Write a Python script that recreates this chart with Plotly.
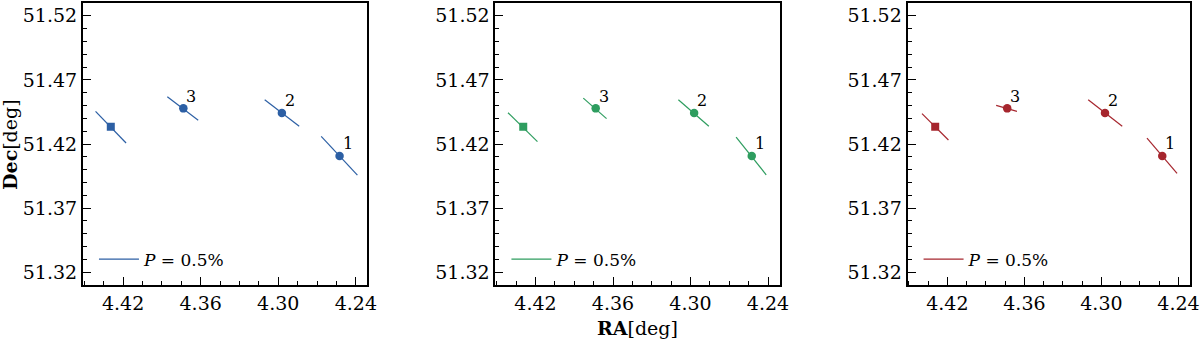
import plotly.graph_objects as go
from plotly.subplots import make_subplots

# reference source (square marker) and the three numbered detections
ref_ra = 4.4295
ref_dec = 51.4334
pt_labels = ["1", "2", "3"]
pt_ra = [4.2526, 4.2972, 4.3734]
pt_dec = [51.4107, 51.4442, 51.4478]

# orientation segments per panel, order: ref, 1, 2, 3
blue_ra0 = [4.4413, 4.2668, 4.3105, 4.3858]
blue_dec0 = [51.4455, 51.4259, 51.4545, 51.4568]
blue_ra1 = [4.4177, 4.2388, 4.2838, 4.3619]
blue_dec1 = [51.4208, 51.3957, 51.4339, 51.4386]

green_ra0 = [4.4413, 4.2647, 4.3094, 4.3830]
green_dec0 = [51.4444, 51.4254, 51.4545, 51.4558]
green_ra1 = [4.4185, 4.2414, 4.2858, 4.3650]
green_dec1 = [51.4218, 51.3960, 51.4339, 51.4398]

red_ra0 = [4.4398, 4.2645, 4.3103, 4.3820]
red_dec0 = [51.4437, 51.4246, 51.4545, 51.4501]
red_ra1 = [4.4192, 4.2411, 4.2838, 4.3658]
red_dec1 = [51.4231, 51.3970, 51.4339, 51.4455]

legend_text = "<i>P</i> = 0.5%"

FONT = "DejaVu Serif"

panels = [
    ("#2c5fa4", blue_ra0, blue_dec0, blue_ra1, blue_dec1),
    ("#2e9d5f", green_ra0, green_dec0, green_ra1, green_dec1),
    ("#a6262e", red_ra0, red_dec0, red_ra1, red_dec1),
]

fig = make_subplots(rows=1, cols=3, horizontal_spacing=0.1157)

legend_names = ["legend", "legend2", "legend3"]

for n, (color, ra0, dec0, ra1, dec1) in enumerate(panels):
    col = n + 1
    xs, ys = [], []
    for a0, d0, a1, d1 in zip(ra0, dec0, ra1, dec1):
        xs += [a0, a1, None]
        ys += [d0, d1, None]
    fig.add_trace(
        go.Scatter(
            x=xs, y=ys, mode="lines",
            line=dict(color=color, width=1.2),
            name=legend_text, showlegend=True,
            legend=legend_names[n],
            hoverinfo="skip",
        ),
        row=1, col=col,
    )
    fig.add_trace(
        go.Scatter(
            x=[ref_ra], y=[ref_dec], mode="markers",
            marker=dict(symbol="square", size=8, color=color),
            showlegend=False,
        ),
        row=1, col=col,
    )
    fig.add_trace(
        go.Scatter(
            x=pt_ra, y=pt_dec, mode="markers",
            marker=dict(symbol="circle", size=8.5, color=color),
            showlegend=False,
        ),
        row=1, col=col,
    )
    xref = "x" if col == 1 else f"x{col}"
    yref = "y" if col == 1 else f"y{col}"
    for lab, a, d in zip(pt_labels, pt_ra, pt_dec):
        fig.add_annotation(
            x=a, y=d, xref=xref, yref=yref, text=lab, showarrow=False,
            xshift=8, yshift=12,
            font=dict(family=FONT, size=16, color="black"),
        )

axis_common = dict(
    showline=True, linecolor="black", linewidth=2, mirror=True,
    ticks="inside", ticklen=8, tickwidth=1.2, tickcolor="black",
    showgrid=False, zeroline=False,
    tickfont=dict(family=FONT, size=19, color="black"),
)

doms = [(0.0, 0.257), (0.3726, 0.6293), (0.7449, 1.0)]
for n in range(3):
    fig.update_xaxes(
        axis_common, row=1, col=n + 1,
        domain=list(doms[n]),
        range=[4.451, 4.231], tick0=4.24, dtick=0.06, tickformat=".2f",
        minor=dict(ticks="inside", ticklen=4, tickwidth=1, tickcolor="black",
                   dtick=0.015, tick0=4.24, showgrid=False),
    )
    fig.update_yaxes(
        axis_common, row=1, col=n + 1,
        range=[51.31, 51.53], tick0=51.32, dtick=0.05, tickformat=".2f",
        minor=dict(ticks="inside", ticklen=4, tickwidth=1, tickcolor="black",
                   dtick=0.01, tick0=51.32, showgrid=False),
    )

legend_style = dict(
    bgcolor="rgba(0,0,0,0)", borderwidth=0,
    font=dict(family=FONT, size=17, color="black"),
    yanchor="middle", xanchor="left", y=0.09, itemwidth=40,
)
layout_legends = {}
for n, name in enumerate(legend_names):
    layout_legends[name] = dict(legend_style, x=doms[n][0] + 0.0099)

fig.update_layout(
    width=1200, height=341,
    margin=dict(l=83, r=7, t=1, b=56),
    plot_bgcolor="white", paper_bgcolor="white",
    **layout_legends,
)

fig.add_annotation(
    text="<b>RA</b>[deg]", xref="paper", yref="paper",
    x=(doms[1][0] + doms[1][1]) / 2, y=-0.108, yanchor="top",
    showarrow=False, font=dict(family=FONT, size=19, color="black"),
)
fig.add_annotation(
    text="<b>Dec</b>[deg]", xref="paper", yref="paper",
    x=-0.066, y=0.5, textangle=-90, xanchor="center",
    showarrow=False, font=dict(family=FONT, size=19, color="black"),
)

fig.write_html(
    "out.html",
    config={"displayModeBar": False},
    post_script="document.body.style.margin='0';",
)
